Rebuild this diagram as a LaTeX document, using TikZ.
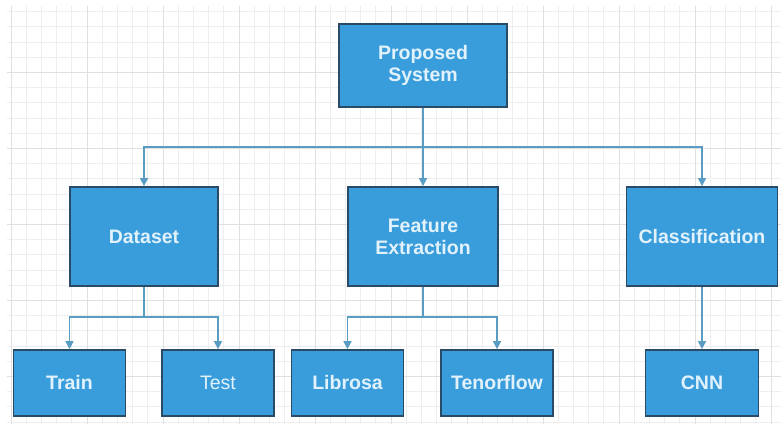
\documentclass[tikz,border=0pt]{standalone}
\usepackage{fontspec}
\setmainfont{Liberation Sans}
\usetikzlibrary{arrows.meta}
\definecolor{boxfill}{HTML}{3A9DDB}
\definecolor{boxline}{HTML}{2B4A66}
\definecolor{conn}{HTML}{5A9DC4}
\definecolor{txt}{HTML}{E2F2FC}
\definecolor{gridminor}{HTML}{EEEEEE}
\definecolor{gridmajor}{HTML}{E0E0E0}
\tikzset{
  box/.style={draw=boxline, line width=1.8pt, fill=boxfill, text=txt,
    font=\fontsize{19.5}{22}\selectfont\bfseries, align=center, inner sep=0pt},
  conline/.style={draw=conn, line width=1.6pt, -{Triangle[length=8pt,width=8pt]}},
  plain/.style={draw=conn, line width=1.6pt}
}
\begin{document}
\begin{tikzpicture}[x=1pt,y=-1pt]
\useasboundingbox (0,0) rectangle (781,424);
\fill[white] (0,0) rectangle (781,424);
% grid
\foreach \i in {0,...,51} {
  \draw[gridminor, line width=0.7pt] ({11+15.2*\i},6) -- ({11+15.2*\i},424);
}
\foreach \i in {0,...,28} {
  \draw[gridminor, line width=0.7pt] (7,{11.6+15.2*\i}) -- (781,{11.6+15.2*\i});
}
\foreach \i in {0,...,10} {
  \draw[gridmajor, line width=1pt] ({11+76*\i},6) -- ({11+76*\i},424);
}
\foreach \i in {0,...,5} {
  \draw[gridmajor, line width=1pt] (7,{-4+76*\i}) -- (781,{-4+76*\i});
}
% nodes
\node[box, minimum width=168pt, minimum height=83pt] (ps) at (423,65.5) {Proposed\\System};
\node[box, minimum width=148pt, minimum height=99pt] (ds) at (144,236.5) {Dataset};
\node[box, minimum width=150pt, minimum height=99pt] (fe) at (423,236.5) {Feature\\Extraction};
\node[box, minimum width=151pt, minimum height=99pt] (cl) at (702,236.5) {Classification};
\node[box, minimum width=112pt, minimum height=66pt] (tr) at (69.5,383) {Train};
\node[box, minimum width=112pt, minimum height=66pt, font=\fontsize{19.5}{22}\selectfont] (te) at (218,383) {Test};
\node[box, minimum width=112pt, minimum height=66pt] (lb) at (347.5,383) {Librosa};
\node[box, minimum width=112pt, minimum height=66pt] (tf) at (497,383) {Tenorflow};
\node[box, minimum width=113pt, minimum height=66pt] (cn) at (702,383) {CNN};
% buses
\coordinate (busA) at (0,147);
\coordinate (busB) at (0,317);
% connectors
\draw[plain] (ps.south) -- (ps.south |- busA);
\draw[conline] (ps.south |- busA) -| (ds.north);
\draw[conline] (ps.south |- busA) -- (fe.north);
\draw[conline] (ps.south |- busA) -| (cl.north);
\draw[plain] (ds.south) -- (ds.south |- busB);
\draw[conline] (ds.south |- busB) -| (tr.north);
\draw[conline] (ds.south |- busB) -| (te.north);
\draw[plain] (fe.south) -- (fe.south |- busB);
\draw[conline] (fe.south |- busB) -| (lb.north);
\draw[conline] (fe.south |- busB) -| (tf.north);
\draw[conline] (cl.south) -- (cn.north);
\end{tikzpicture}
\end{document}
